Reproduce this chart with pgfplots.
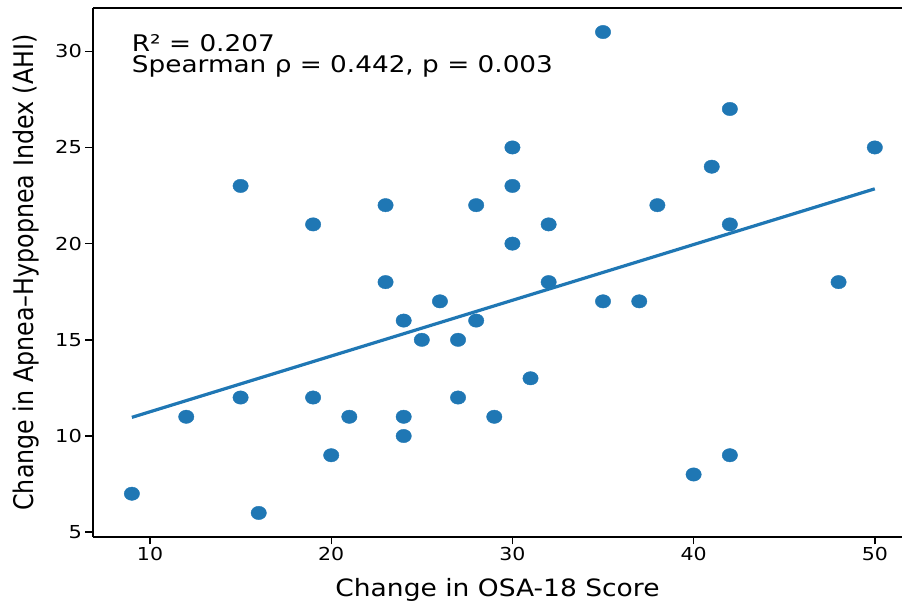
\documentclass[border=0pt]{standalone}
\usepackage{pgfplots}
\pgfplotsset{compat=1.18}
\usepackage{fontspec}
\setmainfont{DejaVu Sans}
\definecolor{c0}{RGB}{31,119,180}

\begin{document}
\begin{tikzpicture}
\begin{axis}[name=ax,
    scale only axis, width=809pt, height=529pt,
    xmin=6.854, xmax=51.5, ymin=4.75, ymax=32.25,
    xtick={10,20,30,40,50}, ytick={5,10,15,20,25,30},
    axis lines*=left,
    axis line style={line width=1.4pt, black},
    tick align=outside, major tick length=7.5pt,
    tick style={line width=1.4pt, black},
    /pgf/number format/assume math mode=true,
    xticklabel style={font=\fontsize{20.5}{24}\selectfont, yscale=0.87},
    yticklabel style={font=\fontsize{21}{25}\selectfont, yscale=0.85},
    xlabel={Change in OSA-18 Score},
    ylabel={Change in Apnea--Hypopnea Index (AHI)},
    xlabel style={at={([yshift=-60pt]axis description cs:0.5,0)}, anchor=base,
        font=\fontsize{26.5}{30}\selectfont, yscale=0.9},
    ylabel style={at={([xshift=-59pt]axis description cs:0,0.5)}, anchor=base,
        font=\fontsize{27}{31}\selectfont, xscale=0.88},
    clip=false,
  ]
  % measured points
  \addplot[only marks, mark=*, mark size=6.7pt, color=c0,
      mark options={xscale=1.15, fill=c0, draw=c0}] coordinates {
    (9,7) (12,11) (15,23) (15,12) (16,6) (19,21) (19,12) (20,9) (21,11)
    (23,22) (23,18) (24,16) (24,11) (24,10) (25,15) (26,17) (27,15) (27,12)
    (28,22) (28,16) (29,11) (30,25) (30,23) (30,20) (31,13) (32,21) (32,18)
    (35,31) (35,17) (37,17) (38,22) (40,8) (41,24) (42,27) (42,21) (42,9)
    (48,18) (50,25)
  };
  % fitted line
  \addplot[c0, line width=3.2pt] coordinates {(9,10.97) (50,22.85)};
  \draw[line width=1.4pt, black] (rel axis cs:0,1) -- (rel axis cs:1,1);
  \node[anchor=base west, font=\fontsize{26.3}{30}\selectfont, yscale=0.87, inner sep=0pt]
    at (rel axis cs:0.0479,0.9174) {R² = 0.207};
  \node[anchor=base west, font=\fontsize{26.3}{30}\selectfont, yscale=0.87, inner sep=0pt]
    at (rel axis cs:0.0479,0.8777) {Spearman ρ = 0.442, p = 0.003};
\end{axis}
\pgfresetboundingbox
\path[use as bounding box] ([shift={(-93pt,-69pt)}]ax.south west) rectangle ([shift={(0pt,8pt)}]ax.north east);
\end{tikzpicture}
\end{document}
